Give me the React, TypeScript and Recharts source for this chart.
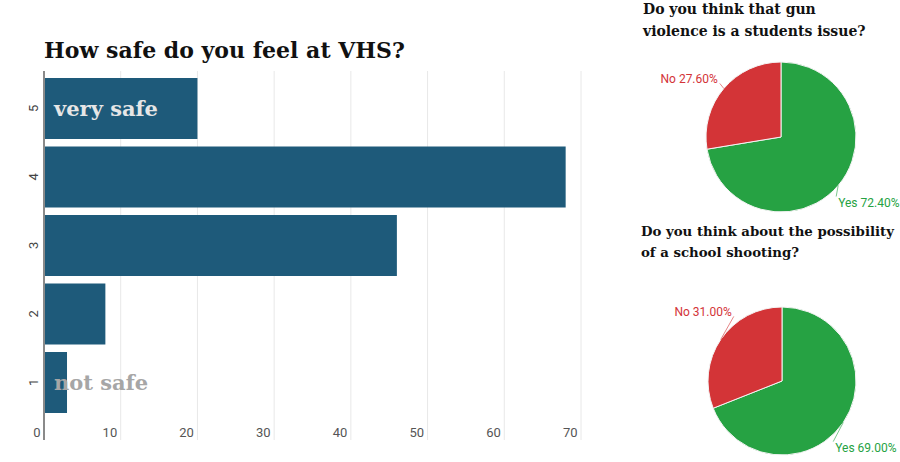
import React from "react";
import {
  BarChart, Bar, XAxis, YAxis, CartesianGrid, LabelList,
  PieChart, Pie, Cell,
} from "recharts";

// ---- data ----
const safetyLevels = ["5", "4", "3", "2", "1"];
const safetyCounts = [20, 68, 46, 8, 3];
const safetyNotes = ["very safe", "", "", "", "not safe"];
const xTicks = [0, 10, 20, 30, 40, 50, 60, 70];

const answerNames = ["Yes", "No"];
const gunIssuePct = [72.4, 27.6];
const shootingPct = [69.0, 31.0];

const barTitle = "How safe do you feel at VHS?";
const pieTitle1 = ["Do you think that gun", "violence is a students issue?"];
const pieTitle2 = ["Do you think about the possibility", "of a school shooting?"];

// ---- built tables ----
const barData = safetyLevels.map((level, i) => ({
  level,
  count: safetyCounts[i],
  note: safetyNotes[i],
}));
const pieData1 = answerNames.map((name, i) => ({ name, value: gunIssuePct[i] }));
const pieData2 = answerNames.map((name, i) => ({ name, value: shootingPct[i] }));

const BAR_COLOR = "#1e5a7a";
const PIE_COLORS = ["#26a243", "#d33437"];
const SERIF = "'DejaVu Serif', serif";
const SANS = "Roboto, sans-serif";

const YTick = (props: any) => {
  const { x, y, payload } = props;
  return (
    <text
      x={x}
      y={y}
      transform={`rotate(-90 ${x} ${y})`}
      textAnchor="middle"
      dominantBaseline="central"
      fontFamily={SANS}
      fontSize={13}
      fill="#444"
    >
      {payload.value}
    </text>
  );
};

const XTick = (props: any) => {
  const { x, y, payload } = props;
  return (
    <text
      x={x - 3.5}
      y={y - 8}
      textAnchor="end"
      dominantBaseline="central"
      fontFamily={SANS}
      fontSize={13}
      fill="#555"
    >
      {payload.value}
    </text>
  );
};

const NoteLabel = (props: any) => {
  const { x, y, width, height, value } = props;
  if (!value) return null;
  const approxTextWidth = value.length * 11.5;
  const fits = width > approxTextWidth + 15;
  return (
    <text
      x={x + 10}
      y={y + height / 2}
      dominantBaseline="central"
      fontFamily={SERIF}
      fontWeight="bold"
      fontSize={21}
      fill={fits ? "#e6e6e6" : "#a6a6a6"}
    >
      {value}
    </text>
  );
};

const RAD = Math.PI / 180;
const makePieLabel = (off: { left: [number, number]; right: [number, number] }) => (props: any) => {
  const { cx, cy, midAngle, outerRadius, name, value, index } = props;
  const ex = cx + outerRadius * Math.cos(-midAngle * RAD);
  const ey = cy + outerRadius * Math.sin(-midAngle * RAD);
  const isLeft = ex < cx;
  const [dx, dy] = isLeft ? off.left : off.right;
  const tx = ex + dx;
  const ty = ey + dy;
  const color = PIE_COLORS[index % PIE_COLORS.length];
  const lx = isLeft ? tx + 2 : tx - 2;
  const ly = isLeft ? ty + 4 : ty - 6;
  return (
    <g>
      <path d={`M${ex},${ey}L${lx},${ly}`} stroke={color} strokeOpacity={0.6} strokeWidth={1} fill="none" />
      <text
        x={tx}
        y={ty}
        textAnchor={isLeft ? "end" : "start"}
        dominantBaseline="central"
        fontFamily={SANS}
        fontSize={12}
        fill={color}
      >
        {`${name} ${value.toFixed(2)}%`}
      </text>
    </g>
  );
};

const titleStyle: React.CSSProperties = {
  position: "absolute",
  fontFamily: SERIF,
  fontWeight: "bold",
  color: "#111",
  whiteSpace: "nowrap",
};

export default function App() {
  return (
    <div style={{ position: "absolute", left: 0, top: 0, width: 900, height: 462, background: "#fff", overflow: "hidden" }}>
      <div style={{ ...titleStyle, left: 44, top: 36, fontSize: 22, lineHeight: "28px" }}>{barTitle}</div>
      <div style={{ position: "absolute", left: 0, top: 0 }}>
        <BarChart
          width={600}
          height={462}
          data={barData}
          layout="vertical"
          margin={{ top: 71, right: 19, bottom: 15, left: 24 }}
          barCategoryGap={4}
        >
          <CartesianGrid horizontal={false} stroke="#e8e8e8" />
          <XAxis
            type="number"
            domain={[0, 70]}
            ticks={xTicks}
            height={7}
            axisLine={false}
            tickLine={false}
            tickSize={0}
            tickMargin={0}
            tick={<XTick />}
            interval={0}
          />
          <YAxis
            type="category"
            dataKey="level"
            width={20}
            axisLine={{ stroke: "#8a8a8a", strokeWidth: 2 }}
            tickLine={false}
            tickSize={0}
            tickMargin={11}
            tick={<YTick />}
            padding={{ top: 3, bottom: 23.5 }}
          />
          <Bar dataKey="count" fill={BAR_COLOR} isAnimationActive={false}>
            <LabelList dataKey="note" content={<NoteLabel />} />
          </Bar>
        </BarChart>
      </div>

      <div style={{ ...titleStyle, left: 643, top: -2, fontSize: 14, lineHeight: "22px" }}>
        {pieTitle1[0]}
        <br />
        {pieTitle1[1]}
      </div>
      <div style={{ ...titleStyle, left: 641, top: 221, fontSize: 13.3, lineHeight: "21px" }}>
        {pieTitle2[0]}
        <br />
        {pieTitle2[1]}
      </div>

      <div style={{ position: "absolute", left: 630, top: 0 }}>
        <PieChart width={270} height={462} margin={{ top: 0, right: 0, bottom: 0, left: 0 }}>
          <Pie
            data={pieData1}
            dataKey="value"
            nameKey="name"
            cx={151}
            cy={137}
            outerRadius={75}
            startAngle={90}
            endAngle={-270}
            stroke="#f4f4f4"
            strokeWidth={1}
            labelLine={false}
            label={makePieLabel({ left: [-6, -9], right: [0, 17] })}
            isAnimationActive={false}
          >
            {pieData1.map((d, i) => (
              <Cell key={d.name} fill={PIE_COLORS[i]} />
            ))}
          </Pie>
          <Pie
            data={pieData2}
            dataKey="value"
            nameKey="name"
            cx={152}
            cy={381}
            outerRadius={74}
            startAngle={90}
            endAngle={-270}
            stroke="#f4f4f4"
            strokeWidth={1}
            labelLine={false}
            label={makePieLabel({ left: [11, -27], right: [-8, 25] })}
            isAnimationActive={false}
          >
            {pieData2.map((d, i) => (
              <Cell key={d.name} fill={PIE_COLORS[i]} />
            ))}
          </Pie>
        </PieChart>
      </div>
    </div>
  );
}
